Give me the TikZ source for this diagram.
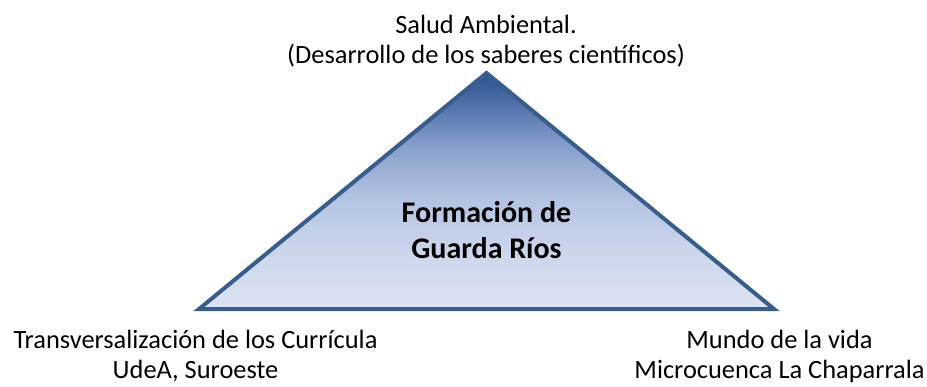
\documentclass[tikz,border=0pt]{standalone}
\usepackage{fontspec}
\setmainfont{Carlito}
\definecolor{edgeblue}{HTML}{385D8A}
\definecolor{g0}{HTML}{DCE3F3}
\definecolor{g1}{HTML}{CBD6EC}
\definecolor{g2}{HTML}{B5C4E3}
\definecolor{g3}{HTML}{8CA3CF}
\definecolor{g4}{HTML}{4A6DA6}
\definecolor{g5}{HTML}{2A5290}
\pgfdeclareverticalshading{trishade}{100bp}{color(0bp)=(g0); color(25bp)=(g0); color(37.5bp)=(g1); color(48bp)=(g2); color(58.5bp)=(g3); color(69.3bp)=(g4); color(75bp)=(g5); color(100bp)=(g5)}
\tikzset{
  lbl/.style={align=center, anchor=base, inner sep=0pt, font=\fontsize{26.4}{30}\selectfont},
  bold/.style={align=center, anchor=base, inner sep=0pt, font=\fontsize{30}{36}\selectfont\bfseries},
  tri/.style={shade, shading=trishade, draw=edgeblue, line width=4pt, line join=miter}
}
\begin{document}
\begin{tikzpicture}[x=1pt,y=-1pt]
\useasboundingbox (0,0) rectangle (927,386);
\coordinate (apex) at (486.5,73);
\coordinate (bl) at (199,309);
\coordinate (br) at (774,309);
\path[tri] (apex) -- (bl) -- (br) -- cycle;
\node[lbl] (top) at (486,63) {Salud Ambiental.\\(Desarrollo de los saberes científicos)};
\node[bold] (mid) at (486.5,258) {Formación de\\Guarda Ríos};
\node[lbl] (left) at (195.5,378) {Transversalización de los Currícula\\UdeA, Suroeste};
\node[lbl] (right) at (779.5,378) {Mundo de la vida\\Microcuenca La Chaparrala};
\end{tikzpicture}
\end{document}
